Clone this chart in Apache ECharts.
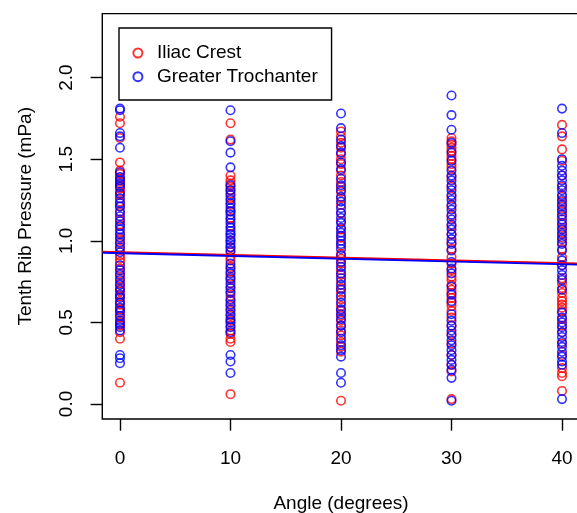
<!DOCTYPE html>
<html>
<head>
<meta charset="utf-8">
<script src="https://cdn.jsdelivr.net/npm/echarts@6/dist/echarts.min.js"></script>
<style>
html,body{margin:0;padding:0;background:#fff;}
#chart{width:577px;height:513px;}
</style>
</head>
<body>
<div id="chart"></div>
<script>
// ---- data ----
var angles = [0, 10, 20, 30, 40];
var xTicks = [0, 10, 20, 30, 40];
var yTicks = [0, 0.5, 1.0, 1.5, 2.0];
var seriesNames = ['Iliac Crest', 'Greater Trochanter'];

// Iliac Crest pressures by angle (0,10,20,30,40)
var iliac0  = [1.76,1.72,1.63,1.48,1.43,1.41,1.38,1.36,1.34,1.32,1.30,1.28,1.24,1.21,1.17,1.13,1.10,1.05,1.01,0.98,0.95,0.91,0.89,0.87,0.83,0.80,0.77,0.74,0.71,0.69,0.66,0.63,0.61,0.58,0.56,0.53,0.50,0.48,0.44,0.40,0.13];
var iliac10 = [1.72,1.62,1.40,1.37,1.35,1.33,1.31,1.29,1.26,1.22,1.18,1.14,1.09,1.04,1.00,0.96,0.93,0.90,0.88,0.84,0.81,0.78,0.76,0.72,0.69,0.66,0.63,0.60,0.57,0.54,0.51,0.48,0.45,0.43,0.40,0.38,0.06];
var iliac20 = [1.67,1.64,1.60,1.57,1.53,1.50,1.47,1.43,1.40,1.36,1.33,1.30,1.26,1.22,1.17,1.12,1.07,1.02,0.97,0.92,0.89,0.86,0.82,0.79,0.75,0.71,0.68,0.64,0.60,0.57,0.54,0.51,0.48,0.45,0.42,0.38,0.35,0.32,0.02];
var iliac30 = [1.63,1.61,1.59,1.57,1.55,1.52,1.50,1.47,1.45,1.39,1.33,1.27,1.21,1.15,1.09,1.04,0.99,0.95,0.90,0.86,0.82,0.78,0.76,0.73,0.70,0.68,0.65,0.62,0.60,0.57,0.53,0.48,0.43,0.37,0.30,0.24,0.20,0.03];
var iliac40 = [1.71,1.64,1.56,1.49,1.40,1.33,1.27,1.24,1.21,1.18,1.15,1.11,1.08,1.05,1.02,0.99,0.95,0.90,0.85,0.77,0.74,0.71,0.68,0.65,0.63,0.61,0.59,0.57,0.52,0.48,0.44,0.37,0.30,0.22,0.19,0.17,0.08];

// Greater Trochanter pressures by angle
var troch0  = [1.81,1.80,1.66,1.64,1.57,1.42,1.39,1.37,1.35,1.33,1.29,1.26,1.23,1.21,1.18,1.15,1.12,1.09,1.07,1.04,1.02,0.99,0.96,0.93,0.85,0.82,0.79,0.76,0.73,0.70,0.67,0.65,0.62,0.59,0.57,0.54,0.51,0.49,0.47,0.45,0.30,0.28,0.25];
var troch10 = [1.80,1.61,1.54,1.45,1.34,1.31,1.28,1.25,1.23,1.20,1.18,1.16,1.13,1.11,1.08,1.06,1.04,1.02,1.00,0.98,0.96,0.94,0.86,0.83,0.80,0.77,0.74,0.71,0.68,0.64,0.61,0.58,0.55,0.52,0.50,0.47,0.44,0.30,0.26,0.19];
var troch20 = [1.78,1.69,1.62,1.58,1.54,1.48,1.44,1.38,1.34,1.31,1.27,1.24,1.20,1.17,1.14,1.11,1.08,1.05,1.03,1.00,0.98,0.95,0.91,0.87,0.84,0.80,0.77,0.73,0.70,0.66,0.62,0.58,0.55,0.52,0.48,0.44,0.40,0.36,0.33,0.29,0.19,0.13];
var troch30 = [1.89,1.77,1.68,1.60,1.54,1.49,1.43,1.40,1.37,1.34,1.31,1.28,1.25,1.22,1.19,1.16,1.13,1.10,1.07,1.04,1.01,0.98,0.94,0.87,0.83,0.80,0.72,0.67,0.63,0.55,0.51,0.48,0.45,0.42,0.39,0.36,0.33,0.30,0.27,0.24,0.21,0.16,0.02];
var troch40 = [1.81,1.66,1.50,1.46,1.43,1.40,1.37,1.34,1.31,1.28,1.25,1.22,1.19,1.16,1.13,1.10,1.07,1.04,1.01,0.98,0.94,0.88,0.85,0.82,0.79,0.76,0.70,0.56,0.53,0.50,0.47,0.44,0.41,0.38,0.35,0.32,0.29,0.26,0.24,0.03];

// fitted regression lines: [intercept, slope]
var fitIliac = [0.930, -0.00165];
var fitTroch = [0.924, -0.00170];

// ---- chart ----
var xMin = -1.6, xMax = 41.6, yMin = -0.092, yMax = 2.392;
var iliacByAngle = [iliac0, iliac10, iliac20, iliac30, iliac40];
var trochByAngle = [troch0, troch10, troch20, troch30, troch40];

function toPoints(groups) {
  var out = [];
  for (var i = 0; i < angles.length; i++) {
    for (var j = 0; j < groups[i].length; j++) out.push([angles[i], groups[i][j]]);
  }
  return out;
}
function fitLine(fit) {
  return [[xMin, fit[0] + fit[1] * xMin], [xMax, fit[0] + fit[1] * xMax]];
}

var FONT = 'Liberation Sans';
var chart = echarts.init(document.getElementById('chart'), null, {renderer: 'canvas'});
chart.setOption({
  animation: false,
  backgroundColor: '#fff',
  textStyle: {fontFamily: FONT},
  grid: {left: 102.3, top: 13.6, width: 477.4, height: 405.4, show: true,
         outerBoundsMode: 'none', containLabel: false,
         borderColor: '#000', borderWidth: 1.4, backgroundColor: 'transparent'},
  legend: {
    data: seriesNames,
    orient: 'vertical', left: 119, top: 28,
    padding: [15, 13.8, 13.3, 13.4],
    itemWidth: 28, itemHeight: 9, itemGap: 3.7,
    borderColor: '#000', borderWidth: 1.4, backgroundColor: '#fff',
    textStyle: {fontFamily: FONT, fontSize: 19, color: '#000', lineHeight: 20}
  },
  xAxis: {
    type: 'value', min: xMin, max: xMax,
    name: 'Angle (degrees)', nameLocation: 'middle', nameGap: 75,
    nameTextStyle: {fontFamily: FONT, fontSize: 19, color: '#000'},
    axisLine: {show: false, onZero: false},
    splitLine: {show: false},
    axisTick: {show: true, inside: false, length: 11.7, customValues: xTicks, lineStyle: {color: '#000', width: 1.4}},
    axisLabel: {customValues: xTicks, margin: 30.5, fontFamily: FONT, fontSize: 19, color: '#000'}
  },
  yAxis: {
    type: 'value', min: yMin, max: yMax,
    name: 'Tenth Rib Pressure (mPa)', nameLocation: 'middle', nameGap: 67,
    nameTextStyle: {fontFamily: FONT, fontSize: 19, color: '#000'},
    axisLine: {show: false, onZero: false},
    splitLine: {show: false},
    axisTick: {show: true, inside: false, length: 11.7, customValues: yTicks, lineStyle: {color: '#000', width: 1.4}},
    axisLabel: {customValues: yTicks, rotate: 90, margin: 26, fontFamily: FONT, fontSize: 19, color: '#000',
                formatter: function (v) { return v.toFixed(1); }}
  },
  series: [
    {name: seriesNames[0], type: 'scatter', symbol: 'circle', symbolSize: 8.5,
     itemStyle: {color: 'rgba(0,0,0,0)', borderColor: '#ff0000', borderWidth: 1.6},
     data: toPoints(iliacByAngle), z: 2},
    {name: seriesNames[1], type: 'scatter', symbol: 'circle', symbolSize: 8.5,
     itemStyle: {color: 'rgba(0,0,0,0)', borderColor: '#0000ff', borderWidth: 1.6},
     data: toPoints(trochByAngle), z: 3},
    {name: 'fitIliac', type: 'line', data: fitLine(fitIliac), symbol: 'none',
     lineStyle: {color: '#ff0000', width: 1.8}, z: 4},
    {name: 'fitTroch', type: 'line', data: fitLine(fitTroch), symbol: 'none',
     lineStyle: {color: '#0000ff', width: 1.8}, z: 5}
  ]
});
</script>
</body>
</html>
